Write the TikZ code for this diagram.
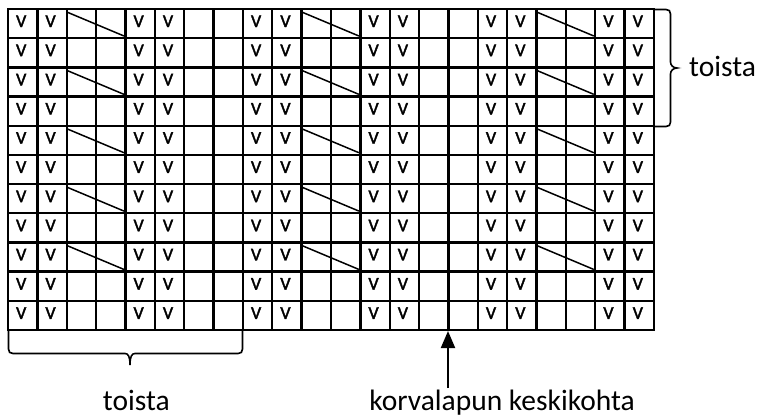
\documentclass[tikz,border=0pt]{standalone}
\usepackage{fontspec}
\setmainfont{Carlito}
\newfontfamily\vfont[FakeBold=2]{Carlito}
\usetikzlibrary{arrows.meta}
\begin{document}
\begin{tikzpicture}[x=1pt,y=-1pt,
  gridline/.style={line width=2.4pt,black},
  vmark/.style={anchor=base,inner sep=0pt,font=\vfont\fontsize{18}{18}\selectfont},
  slashline/.style={line width=1.5pt,black},
  bracepath/.style={line width=1.6pt,black},
  lbl/.style={inner sep=0pt,font=\fontsize{29.5}{29.5}\selectfont},
  arr/.style={line width=2pt,-{Triangle[length=17pt,width=14pt]}}]
\useasboundingbox (0,0) rectangle (757,416);
\def\cw{29.3636}
\def\rh{29.1818}
% grid
\foreach \i in {1,...,21} \draw[gridline] ({8+\i*\cw},9) -- ({8+\i*\cw},330);
\foreach \j in {1,...,10} \draw[gridline] (8,{9+\j*\rh}) -- (654,{9+\j*\rh});
\draw[gridline,line join=miter] (8,9) rectangle (654,330);
% V marks
\foreach \r in {0,...,10}
  \foreach \c in {0,1,4,5,8,9,12,13,16,17,20,21}
    \node[vmark] at ({8+\c*\cw+13.2},{9+\r*\rh+18}) {V};
% slashes
\foreach \r in {0,2,4,6,8}
  \foreach \c in {2,10,18}
    \draw[slashline] ({8+\c*\cw+0.8},{9+\r*\rh+3.3}) -- ({8+(\c+2)*\cw-1.5},{9+(\r+1)*\rh-2.2});
% bottom brace
\draw[bracepath] (8.5,331) -- (8.5,349) .. controls (8.5,352) and (10,353.5) .. (13,353.5)
  -- (125,353.5) .. controls (128,353.5) and (130,356) .. (130,365)
  .. controls (130,356) and (132,353.5) .. (135,353.5) -- (238,353.5)
  .. controls (241,353.5) and (242.5,352) .. (242.5,349) -- (242.5,331);
% right brace
\draw[bracepath] (655,9.5) -- (666,9.5) .. controls (669,9.5) and (670.5,11) .. (670.5,14)
  -- (670.5,62) .. controls (670.5,65) and (673,68) .. (677,68)
  .. controls (673,68) and (670.5,71) .. (670.5,74) -- (670.5,122)
  .. controls (670.5,125) and (669,126.5) .. (666,126.5) -- (655,126.5);
% labels
\node[lbl,anchor=base west] (tr) at (689,76.5) {toista};
\node[lbl,anchor=base] (tb) at (136.3,410) {toista};
\node[lbl,anchor=base] (kk) at (502,410) {korvalapun keskikohta};
% arrow
\coordinate (mid) at (448,331);
\coordinate (foot) at (448,388);
\draw[arr] (foot) -- (mid);
\end{tikzpicture}
\end{document}
